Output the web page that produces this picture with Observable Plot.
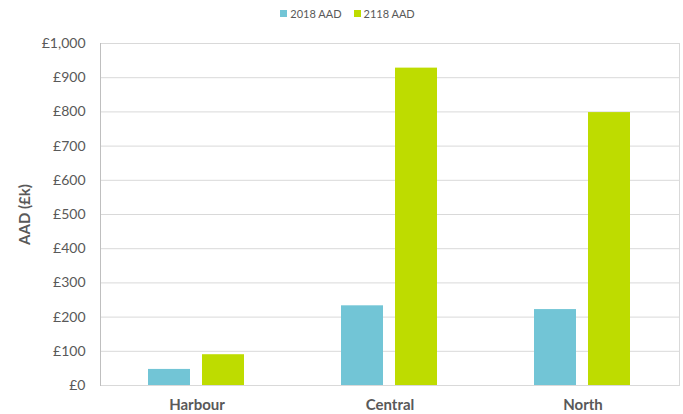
<!DOCTYPE html>
<html>
<head>
<meta charset="utf-8">
<script src="https://cdn.jsdelivr.net/npm/d3@7"></script>
<script src="https://cdn.jsdelivr.net/npm/@observablehq/plot@0.6"></script>
<style>
  body { margin: 0; background: #fff; font-family: Lato, "Open Sans", sans-serif; }
  #chart { width: 683px; height: 414px; overflow: hidden; }
  .lg-swatches-wrap { display: flex !important; justify-content: center; align-items: center;
    height: 26px; min-height: 26px !important; margin: 0 !important; padding-left: 24px;
    font-family: Lato, sans-serif !important; font-size: 11px !important; color: #595959 !important; }
  .lg-swatch { margin-right: 12px !important; }
  .lg-swatch svg { margin-right: 3px !important; }
</style>
</head>
<body>
<div id="chart"></div>
<script>
// Average annual damage by area, today and in 100 years
const areas = ["Harbour", "Central", "North"];
const series = ["2018 AAD", "2118 AAD"];
const aad2018 = [47, 233, 222];
const aad2118 = [90, 928, 798];
const yTicks = [0, 100, 200, 300, 400, 500, 600, 700, 800, 900, 1000];
const colors = ["#72C5D6", "#BEDC00"];

const rows = areas.flatMap((area, i) => [
  {area, series: series[0], value: aad2018[i]},
  {area, series: series[1], value: aad2118[i]}
]);

const pound = d => "£" + d3.format(",")(d);

const legend = Plot.legend({
  color: {domain: series, range: colors},
  legend: "swatches",
  swatchSize: 7,
  className: "lg"
});

const chart = Plot.plot({
  width: 683,
  height: 388,
  marginTop: 17,
  marginBottom: 29,
  marginLeft: 100,
  marginRight: 4,
  style: {fontFamily: "Lato, sans-serif", fontSize: "14px", color: "#595959", background: "#fff", overflow: "visible"},
  fx: {domain: areas, padding: 0, label: null},
  x: {domain: series, axis: null, paddingInner: 0.218, paddingOuter: 0.864},
  y: {domain: [0, 1000]},
  color: {domain: series, range: colors},
  marks: [
    Plot.gridY(yTicks, {stroke: "#d9d9d9", strokeOpacity: 1}),
    Plot.frame({facet: "super", stroke: "#d9d9d9"}),
    Plot.frame({facet: "super", anchor: "left", stroke: "#bfbfbf"}),
    Plot.barY(rows, {fx: "area", x: "series", y: "value", fill: "series"}),
    Plot.axisY(yTicks, {tickSize: 0, tickPadding: 15, tickFormat: pound, label: null, fill: "#595959"}),
    Plot.axisY({ticks: [], label: "AAD (£k)", labelAnchor: "center", labelArrow: "none", labelOffset: 81, fontSize: 15, fontWeight: "bold", fill: "#595959"}),
    Plot.axisFx({anchor: "bottom", tickSize: 0, tickPadding: 14, fontSize: 15, fontWeight: "bold", label: null, fill: "#595959"})
  ]
});

const root = document.getElementById("chart");
root.appendChild(legend);
root.appendChild(chart);
</script>
</body>
</html>
